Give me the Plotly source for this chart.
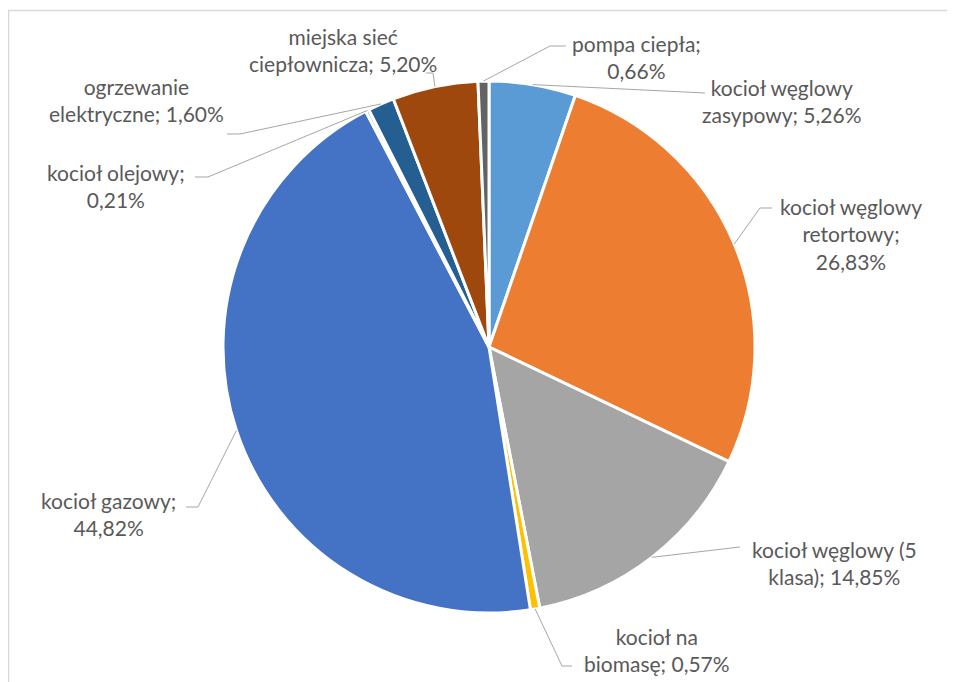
import math
import plotly.graph_objects as go

# dane
labels = ["kocioł węglowy zasypowy", "kocioł węglowy retortowy", "kocioł węglowy (5 klasa)",
          "kocioł na biomasę", "kocioł gazowy", "kocioł olejowy", "ogrzewanie elektryczne",
          "miejska sieć ciepłownicza", "pompa ciepła"]
values = [5.26, 26.83, 14.85, 0.57, 44.82, 0.21, 1.60, 5.20, 0.66]
label_text = ["kocioł węglowy<br>zasypowy; 5,26%", "kocioł węglowy<br>retortowy;<br>26,83%",
              "kocioł węglowy (5<br>klasa); 14,85%", "kocioł na<br>biomasę; 0,57%",
              "kocioł gazowy;<br>44,82%", "kocioł olejowy;<br>0,21%", "ogrzewanie<br>elektryczne; 1,60%",
              "miejska sieć<br>ciepłownicza; 5,20%", "pompa ciepła;<br>0,66%"]
colors = ["#5B9BD5", "#ED7D31", "#A5A5A5", "#FFC000", "#4472C4", "#70AD47", "#255E91", "#9E480E", "#636363"]

W, H = 955, 682
OFF = 8  # margines strony (body) w przeglądarce
CX, CY, R = 489, 347, 266

# położenie etykiet (środek tekstu) i łamania linii odniesienia, w pikselach strony
label_pos = [(782, 101), (851, 234), (834, 563), (657, 650), (108, 514),
             (116, 186), (136, 100), (343, 50), (636, 57)]
elbows = [[(705, 93)], [(760, 208), (772, 208)], [(740, 547)], [(562, 666), (572, 666)],
          [(198, 507), (186, 507)], [(208, 177), (195, 177)], [(240, 134), (227, 134)],
          [(433, 73), (426, 73)], [(550, 46), (566, 46)]]


def px(x):
    return (x - OFF) / W


def py(y):
    return 1 - (y - OFF) / H


fig = go.Figure()
fig.add_trace(go.Pie(
    labels=labels, values=values, sort=False, direction="clockwise", rotation=0,
    marker=dict(colors=colors, line=dict(color="white", width=3)),
    textinfo="none", hoverinfo="label+percent", showlegend=False,
    domain=dict(x=[px(CX - R), px(CX + R)], y=[py(CY + R), py(CY - R)]),
))

shapes = [dict(type="rect", xref="paper", yref="paper", x0=px(8.5), x1=1.05,
               y0=-0.05, y1=py(10.5), line=dict(color="#D9D9D9", width=1.5))]
annotations = []
total = sum(values)
cum = 0
for i, v in enumerate(values):
    mid = (cum + v / 2) / total * 2 * math.pi
    cum += v
    ex, ey = CX + R * math.sin(mid), CY - R * math.cos(mid)
    pts = [(ex, ey)] + elbows[i]
    path = "M " + " L ".join(f"{px(x):.5f},{py(y):.5f}" for x, y in pts)
    shapes.append(dict(type="path", xref="paper", yref="paper", path=path,
                       line=dict(color="#A6A6A6", width=1), layer="above"))
    lx, ly = label_pos[i]
    annotations.append(dict(x=px(lx), y=py(ly), xref="paper", yref="paper",
                            text=label_text[i], showarrow=False, align="center",
                            xanchor="center", yanchor="middle",
                            font=dict(family="Lato, sans-serif", size=21, color="#595959")))

fig.update_layout(
    width=W, height=H, margin=dict(l=0, r=0, t=0, b=0),
    paper_bgcolor="white", plot_bgcolor="white",
    shapes=shapes, annotations=annotations,
)
fig.write_html("out.html")
